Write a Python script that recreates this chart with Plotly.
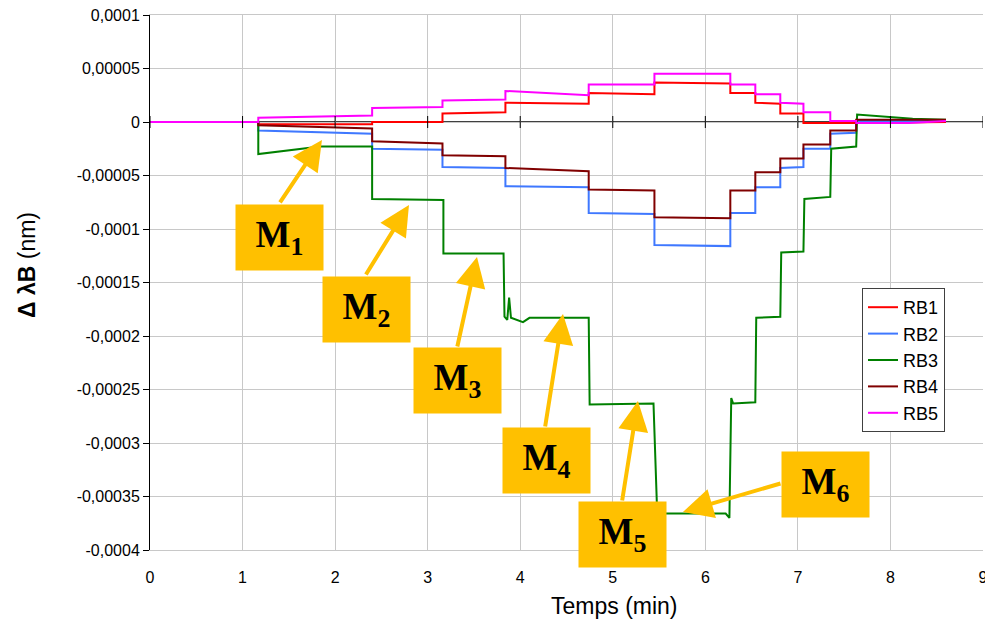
import plotly.graph_objects as go

# ---------------- data ----------------
t_rb1 = [0, 1.17, 1.17, 2.40, 2.40, 3.16, 3.16, 3.84, 3.84, 4.74, 4.74, 5.45, 5.45, 6.27, 6.27, 6.54, 6.54, 6.81, 6.81, 7.06, 7.06, 7.35, 7.63, 8.6]
v_rb1 = [0, 0, -0.000002, -0.000002, 0.0, 0.0, 0.000008, 0.000009, 0.000018, 0.000017, 0.000027, 0.000026, 0.000037, 0.000036, 0.000027, 0.000027, 0.000018, 0.000017, 0.000008, 0.000008, -0.000001, -0.000001, -0.000001, 0.0]

t_rb2 = [0, 1.17, 1.17, 2.40, 2.40, 3.16, 3.16, 3.84, 3.84, 4.74, 4.74, 5.45, 5.45, 6.27, 6.27, 6.54, 6.54, 6.81, 6.81, 7.06, 7.06, 7.35, 7.35, 7.63, 7.63, 8.6]
v_rb2 = [0, 0, -0.000008, -0.000011, -0.000025, -0.000026, -0.000042, -0.000043, -0.000060, -0.000061, -0.000085, -0.000086, -0.000115, -0.000116, -0.000085, -0.000085, -0.000061, -0.000061, -0.000043, -0.000042, -0.000025, -0.000025, -0.000011, -0.000010, 0.000001, 0.000001]

t_rb3 = [0, 1.17, 1.17, 1.84, 2.40, 2.40, 3.17, 3.17, 3.82, 3.83, 3.86, 3.88, 3.90, 4.03, 4.10, 4.74, 4.75, 5.44, 5.48, 6.22, 6.26, 6.28, 6.30, 6.54, 6.55, 6.81, 6.82, 7.06, 7.07, 7.35, 7.36, 7.63, 7.64, 8.24, 8.6]
v_rb3 = [0, 0, -0.000030, -0.000023, -0.000023, -0.000072, -0.000073, -0.000123, -0.000123, -0.000182, -0.000185, -0.000164, -0.000183, -0.000187, -0.000183, -0.000183, -0.000264, -0.000263, -0.000366, -0.000366, -0.000370, -0.000258, -0.000263, -0.000262, -0.000183, -0.000182, -0.000122, -0.000121, -0.000072, -0.000070, -0.000025, -0.000023, 0.000007, 0.000003, 0.000002]

t_rb4 = [0, 1.17, 1.17, 2.40, 2.40, 3.16, 3.16, 3.84, 3.84, 4.74, 4.74, 5.45, 5.45, 6.27, 6.27, 6.54, 6.54, 6.81, 6.81, 7.06, 7.06, 7.35, 7.35, 7.63, 7.63, 8.6]
v_rb4 = [0, 0, -0.000003, -0.000006, -0.000018, -0.000020, -0.000031, -0.000032, -0.000043, -0.000046, -0.000063, -0.000064, -0.000089, -0.000090, -0.000064, -0.000064, -0.000047, -0.000047, -0.000034, -0.000034, -0.000021, -0.000021, -0.000008, -0.000008, 0.000002, 0.000002]

t_rb5 = [0, 1.17, 1.17, 2.40, 2.40, 3.16, 3.16, 3.84, 3.84, 4.74, 4.74, 5.45, 5.45, 6.27, 6.27, 6.54, 6.54, 6.81, 6.81, 7.06, 7.06, 7.35, 7.35, 7.63, 7.63, 8.2, 8.6]
v_rb5 = [0, 0, 0.000004, 0.000006, 0.000013, 0.000014, 0.000020, 0.000021, 0.000029, 0.000025, 0.000035, 0.000035, 0.000045, 0.000045, 0.000035, 0.000035, 0.000026, 0.000026, 0.000018, 0.000017, 0.000009, 0.000009, 0.000001, 0.000001, -0.000001, -0.000001, 0.000001]

series_names = ["RB1", "RB2", "RB3", "RB4", "RB5"]
series_t = [t_rb1, t_rb2, t_rb3, t_rb4, t_rb5]
series_v = [v_rb1, v_rb2, v_rb3, v_rb4, v_rb5]
series_colors = ["#FF0000", "#3F78FF", "#008000", "#800000", "#FF00FF"]

x_ticks = list(range(0, 10))
y_tickvals = [0.0001, 0.00005, 0, -0.00005, -0.0001, -0.00015, -0.0002, -0.00025, -0.0003, -0.00035, -0.0004]
y_ticktext = ["0,0001", "0,00005", "0", "-0,00005", "-0,0001", "-0,00015", "-0,0002", "-0,00025", "-0,0003", "-0,00035", "-0,0004"]

# labels: (name, sub, box centre x, box centre y, arrow tail x, tail y, tip x, tip y)
labels = [
    ("M", "1", 1.399, -0.0001075, 1.394, -0.0000766, 1.858, -0.0000168),
    ("M", "2", 2.339, -0.0001752, 2.323, -0.0001439, 2.798, -0.0000776),
    ("M", "3", 3.322, -0.0002416, 3.317, -0.0002112, 3.533, -0.0001262),
    ("M", "4", 4.284, -0.0003164, 4.267, -0.0002860, 4.462, -0.0001794),
    ("M", "5", 5.105, -0.0003855, 5.099, -0.0003551, 5.272, -0.0002607),
    ("M", "6", 7.298, -0.0003388, 6.828, -0.0003374, 5.758, -0.0003645),
]

# ---------------- figure ----------------
# the page adds an 8px body margin, so the figure is sized/offset to compensate
OFF = 8
EPS = 1e-10
fig = go.Figure()
for name, t, v, c in zip(series_names, series_t, series_v, series_colors):
    fig.add_trace(go.Scatter(x=t, y=v, mode="lines", name=name,
                             line=dict(color=c, width=2)))

GOLD = "#FFC000"
annotations = []
for m, sub, bx, by, ax, ay, tx, ty in labels:
    annotations.append(dict(x=tx, y=ty, xref="x", yref="y", ax=ax, ay=ay,
                            axref="x", ayref="y", text="", showarrow=True,
                            arrowhead=2, arrowsize=1.5, arrowwidth=4,
                            arrowcolor=GOLD, standoff=0, startstandoff=0))
for m, sub, bx, by, ax, ay, tx, ty in labels:
    annotations.append(dict(x=bx, y=by, xref="x", yref="y", showarrow=False,
                            text=f"<b>{m}<sub>{sub}</sub></b>",
                            font=dict(family="Liberation Serif", size=37, color="black"),
                            bgcolor=GOLD, width=87, height=65, borderpad=0,
                            xanchor="center", yanchor="middle"))

# axis titles as annotations
annotations.append(dict(x=(614 - 150) / 833, y=(550 - 606) / 535, xref="paper", yref="paper",
                        text="Temps (min)", showarrow=False,
                        font=dict(family="Liberation Sans", size=23, color="black"),
                        xanchor="center", yanchor="middle"))
annotations.append(dict(x=(27 - 150) / 833, y=(550 - 265) / 535, xref="paper", yref="paper",
                        text="<b>Δ λB</b> (nm)", showarrow=False, textangle=-90,
                        font=dict(family="Liberation Sans", size=23, color="black"),
                        xanchor="center", yanchor="middle"))

# tick marks on the zero line
shapes = []
for xt in x_ticks:
    shapes.append(dict(type="line", xref="x", yref="y", x0=xt, x1=xt,
                       ysizemode="pixel", yanchor=0, y0=-6, y1=6,
                       line=dict(color="black", width=1)))
shapes.append(dict(type="line", xref="x", yref="y", x0=0, x1=9, y0=0, y1=0,
                   line=dict(color="black", width=1.5), layer="below"))

fig.update_layout(
    width=993 - OFF, height=621 - OFF,
    margin=dict(l=150 - OFF, r=10, t=15 - OFF, b=71, autoexpand=False),
    paper_bgcolor="white", plot_bgcolor="white",
    font=dict(family="Liberation Sans", size=16, color="black"),
    showlegend=True,
    legend=dict(x=(862 - 150) / 833, y=(550 - 288) / 535, xanchor="left", yanchor="top",
                bgcolor="white", bordercolor="#404040", borderwidth=1,
                font=dict(size=18), tracegroupgap=0, itemwidth=30),
    annotations=annotations,
    shapes=shapes,
)
fig.update_xaxes(range=[0 - 1e-6, 9 + 1e-6], tickvals=x_ticks, ticktext=[str(v) for v in x_ticks],
                 showgrid=True, gridcolor="#C8C8C8", gridwidth=1,
                 showline=True, linecolor="#C8C8C8", mirror=True,
                 ticks="", zeroline=False, ticklabelstandoff=13, automargin=False,
                 ticklabeloverflow="allow")
fig.update_yaxes(range=[-0.0004 - EPS, 0.0001 + EPS], tickvals=y_tickvals, ticktext=y_ticktext,
                 showgrid=True, gridcolor="#C8C8C8", gridwidth=1,
                 showline=True, linecolor="black", linewidth=1,
                 ticks="outside", ticklen=6, tickcolor="black",
                 zeroline=False, automargin=False, ticklabeloverflow="allow")

fig.write_html("out.html")
